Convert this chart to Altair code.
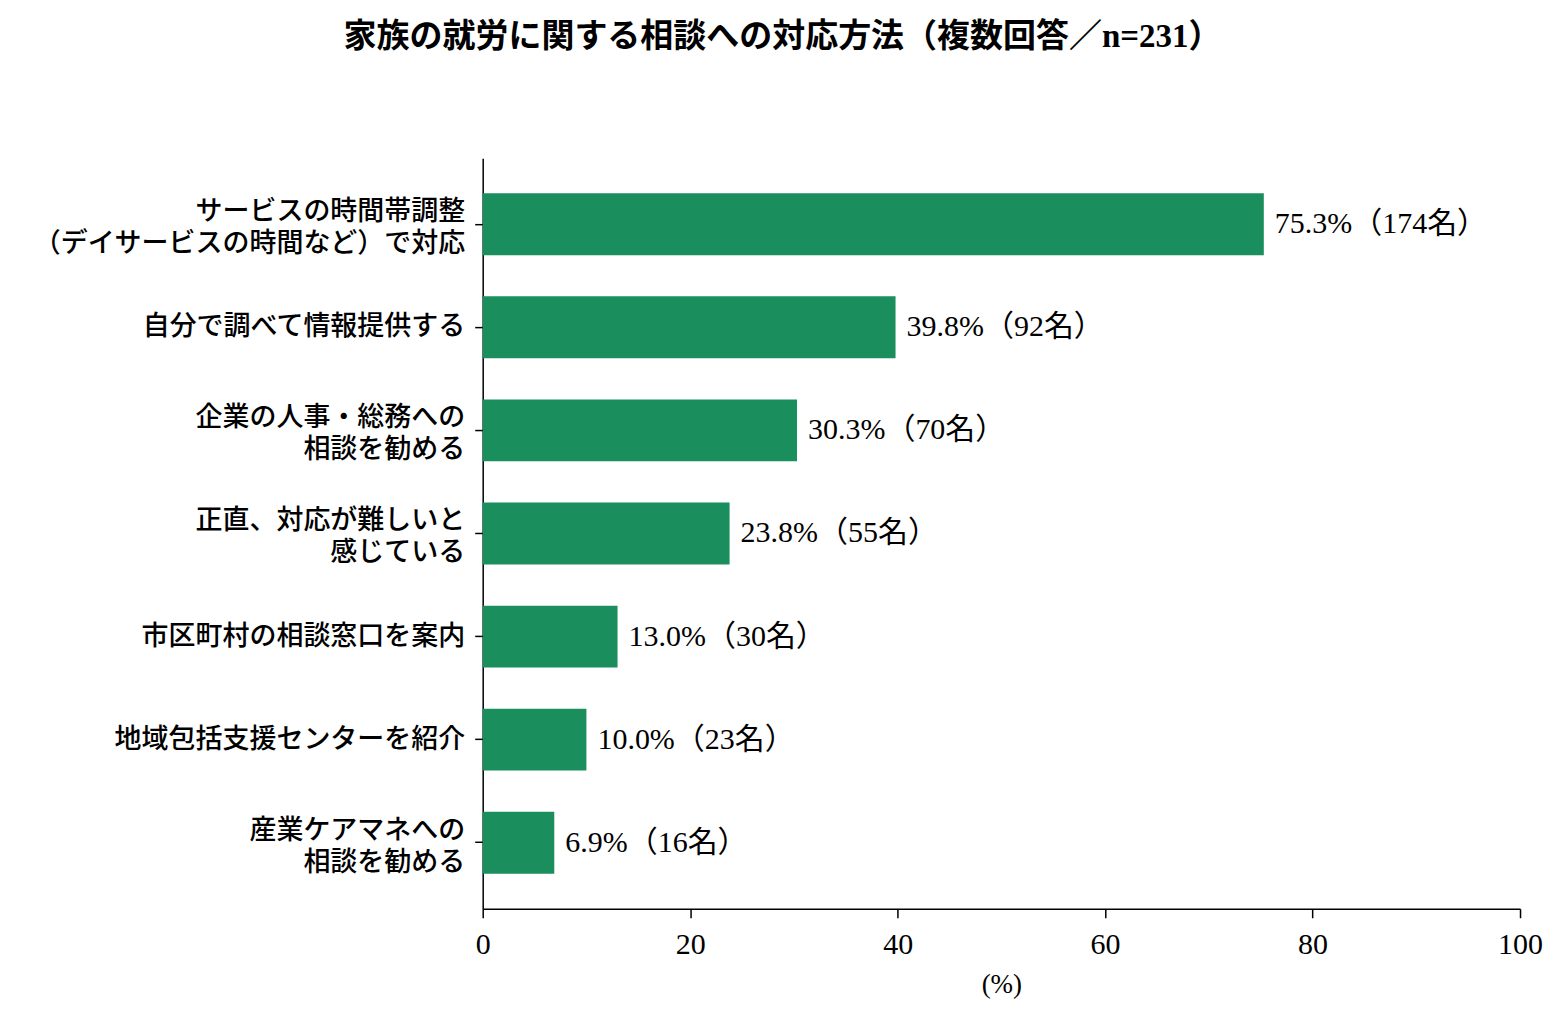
import altair as alt
import pandas as pd

categories = [
    "サービスの時間帯調整\n（デイサービスの時間など）で対応",
    "自分で調べて情報提供する",
    "企業の人事・総務への\n相談を勧める",
    "正直、対応が難しいと\n感じている",
    "市区町村の相談窓口を案内",
    "地域包括支援センターを紹介",
    "産業ケアマネへの\n相談を勧める",
]
percents = [75.3, 39.8, 30.3, 23.8, 13.0, 10.0, 6.9]
counts = [174, 92, 70, 55, 30, 23, 16]
labels = [f"{p:.1f}%（{c}名）" for p, c in zip(percents, counts)]

df = pd.DataFrame({"cat": categories, "pct": percents, "label": labels})

FONT = "Liberation Serif, Noto Sans CJK JP"
COLOR = "#1b8e5e"

y_enc = alt.Y(
    "cat:N",
    sort=categories,
    title=None,
    scale=alt.Scale(paddingInner=0.4, paddingOuter=0.34),
    axis=alt.Axis(
        labelExpr="split(datum.label, '\\n')",
        labelFont=FONT,
        labelFontSize=27,
        labelFontWeight=500,
        labelColor="#000000",
        labelLineHeight=32,
        labelPadding=10,
        labelOffset={
            "condition": {"test": "indexof(datum.label, '\\n') >= 0", "value": -12},
            "value": 0,
        },
        tickSize=8,
        tickColor="#000000",
        tickWidth=1.5,
        domainColor="#000000",
        domainWidth=1.5,
        labelLimit=600,
    ),
)

x_enc = alt.X(
    "pct:Q",
    title="(%)",
    scale=alt.Scale(domain=[0, 100], nice=False),
    axis=alt.Axis(
        values=[0, 20, 40, 60, 80, 100],
        grid=False,
        labelFont=FONT,
        labelFontSize=30,
        labelFlush=False,
        labelColor="#000000",
        labelPadding=12,
        tickSize=9,
        tickColor="#000000",
        tickWidth=1.5,
        domainColor="#000000",
        domainWidth=1.5,
        titleFont=FONT,
        titleFontSize=27,
        titleFontWeight="normal",
        titleColor="#000000",
        titlePadding=12,
    ),
)

bars = alt.Chart(df).mark_bar(color=COLOR).encode(x=x_enc, y=y_enc)

text = alt.Chart(df).mark_text(
    align="left", baseline="middle", dx=11, font=FONT, fontSize=30, color="#000000"
).encode(x="pct:Q", y=alt.Y("cat:N", sort=categories), text="label:N")

chart = (
    alt.layer(bars, text)
    .properties(
        width=1038,
        height=751,
        title=alt.TitleParams(
            "家族の就労に関する相談への対応方法（複数回答／n=231）",
            font=FONT,
            fontSize=33,
            fontWeight="bold",
            color="#000000",
            anchor="middle",
            dx=-219,
            offset=104,
        ),
        autosize=alt.AutoSizeParams(type="none"),
        padding={"left": 475, "top": 150, "right": 40, "bottom": 90},
    )
    .configure(background="white")
    .configure_view(stroke="transparent", strokeWidth=0)
)

chart.save("out.html", embed_options={"renderer": "svg", "actions": False})
